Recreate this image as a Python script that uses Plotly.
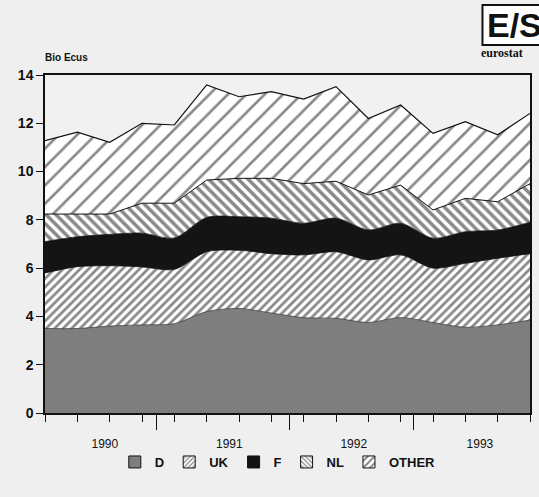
import plotly.graph_objects as go

# quarterly observations, late 1989 to end 1993 (Bio Ecus)
QUARTERS = list(range(16))
D = [3.5, 3.5, 3.6, 3.65, 3.7, 4.2, 4.33, 4.14, 3.95, 3.92, 3.75, 3.95, 3.75, 3.55, 3.65, 3.85]
UK = [2.3, 2.56, 2.5, 2.4, 2.25, 2.48, 2.41, 2.46, 2.6, 2.76, 2.59, 2.6, 2.25, 2.65, 2.76, 2.75]
F = [1.3, 1.24, 1.3, 1.4, 1.3, 1.42, 1.39, 1.47, 1.31, 1.39, 1.24, 1.31, 1.24, 1.31, 1.17, 1.3]
NL = [1.14, 0.94, 0.84, 1.24, 1.44, 1.55, 1.59, 1.65, 1.64, 1.53, 1.45, 1.58, 1.17, 1.38, 1.17, 1.6]
OTHER = [3.04, 3.39, 2.97, 3.31, 3.24, 3.94, 3.38, 3.59, 3.5, 3.92, 3.17, 3.32, 3.17, 3.18, 2.77, 2.91]

YEARS = ["1990", "1991", "1992", "1993"]
Y_TICKS = [0, 2, 4, 6, 8, 10, 12, 14]

FONT = "Liberation Sans"
BG = "#efefef"
INK = "#111"

year_pos = [1.85, 5.7, 9.55, 13.45]
year_breaks = [3.45, 7.55, 11.4]

styles = {
    "D": {"fillcolor": "#7e7e7e", "pattern": None, "line": 0.8, "shape": "spline"},
    "UK": {"fillcolor": "white", "pattern": {"shape": "/", "size": 6, "solidity": 0.45}, "line": 0.8, "shape": "spline"},
    "F": {"fillcolor": "#141414", "pattern": None, "line": 0.8, "shape": "spline"},
    "NL": {"fillcolor": "white", "pattern": {"shape": "\\", "size": 7, "solidity": 0.5}, "line": 1, "shape": "linear"},
    "OTHER": {"fillcolor": "white", "pattern": {"shape": "/", "size": 13, "solidity": 0.2}, "line": 1.2, "shape": "linear"},
}
series = {"D": D, "UK": UK, "F": F, "NL": NL, "OTHER": OTHER}

fig = go.Figure()
for name, values in series.items():
    st = styles[name]
    pattern = dict(st["pattern"], fgcolor=INK) if st["pattern"] else None
    fig.add_trace(go.Scatter(
        x=QUARTERS, y=values, name=name, stackgroup="one", mode="lines",
        line={"color": INK if name != "D" else "#3a3a3a", "width": st["line"],
              "shape": st["shape"], "smoothing": 0.8},
        fillcolor=st["fillcolor"], fillpattern=pattern, showlegend=False,
    ))

# square legend swatches, as in the original key
for name in series:
    st = styles[name]
    marker = {"color": st["fillcolor"], "line": {"color": INK, "width": 1}}
    if st["pattern"]:
        marker["pattern"] = dict(st["pattern"], size=max(4, st["pattern"]["size"] // 2),
                                 solidity=0.4, fgcolor=INK)
    fig.add_trace(go.Bar(x=[None], y=[None], name=name, marker=marker, showlegend=True))

# overlay axis only for the long year-boundary ticks
fig.add_trace(go.Scatter(x=[0, 15], y=[0, 0], xaxis="x2", mode="lines",
                         line={"width": 0}, showlegend=False, hoverinfo="skip"))

fig.update_layout(
    width=539, height=497,
    margin={"l": 45, "r": 7, "t": 75, "b": 84},
    paper_bgcolor=BG,
    plot_bgcolor="#f1f1f1",
    font={"family": FONT, "color": INK},
    xaxis={
        "range": [0, 15], "showgrid": False, "zeroline": False,
        "showline": True, "linecolor": INK, "linewidth": 1.5, "mirror": True,
        "tickmode": "array", "tickvals": year_pos, "ticktext": YEARS,
        "ticks": "", "ticklabelstandoff": 19,
        "tickfont": {"size": 12, "family": FONT},
        "minor": {"tickmode": "linear", "tick0": 0, "dtick": 1, "ticks": "outside",
                  "ticklen": 7, "tickwidth": 1, "tickcolor": INK},
    },
    xaxis2={
        "range": [0, 15], "overlaying": "x", "side": "bottom", "anchor": "y",
        "showgrid": False, "zeroline": False, "showline": False,
        "tickmode": "array", "tickvals": year_breaks, "ticks": "outside",
        "ticklen": 16, "tickwidth": 1, "tickcolor": INK, "showticklabels": False,
    },
    yaxis={
        "range": [0, 14], "showgrid": False, "zeroline": False,
        "showline": True, "linecolor": INK, "linewidth": 1.5, "mirror": True,
        "tickmode": "array", "tickvals": Y_TICKS,
        "ticks": "outside", "ticklen": 7, "tickcolor": INK,
        "tickfont": {"size": 14, "family": FONT, "weight": "bold"},
    },
    legend={
        "orientation": "h", "x": 0.48, "xanchor": "center", "y": -0.145, "yanchor": "middle",
        "traceorder": "normal", "bgcolor": "rgba(0,0,0,0)",
        "font": {"size": 13, "family": FONT, "weight": "bold"},
        "itemwidth": 30,
    },
    showlegend=True,
)

fig.add_annotation(
    text="Bio Ecus", xref="paper", yref="paper", x=-0.005, y=1.053,
    xanchor="left", yanchor="middle", showarrow=False,
    font={"size": 10, "family": FONT, "weight": "bold"},
)
# eurostat logo, cut by the right edge as in the scan
fig.add_shape(type="rect", xref="paper", yref="paper",
              x0=0.902, x1=1.04, y0=1.089, y1=1.207,
              line={"color": INK, "width": 2}, fillcolor="white")
fig.add_annotation(
    text="E/S", xref="paper", yref="paper", x=0.908, y=1.148,
    xanchor="left", yanchor="middle", showarrow=False,
    font={"size": 34, "family": FONT, "weight": "bold"},
)
fig.add_annotation(
    text="eurostat", xref="paper", yref="paper", x=0.895, y=1.066,
    xanchor="left", yanchor="middle", showarrow=False,
    font={"size": 12, "family": "Liberation Sans Narrow", "weight": "bold"},
)

fig.write_html(
    "out.html",
    config={"displayModeBar": False},
    post_script="document.body.style.margin='0';document.body.style.background='#efefef';",
)
